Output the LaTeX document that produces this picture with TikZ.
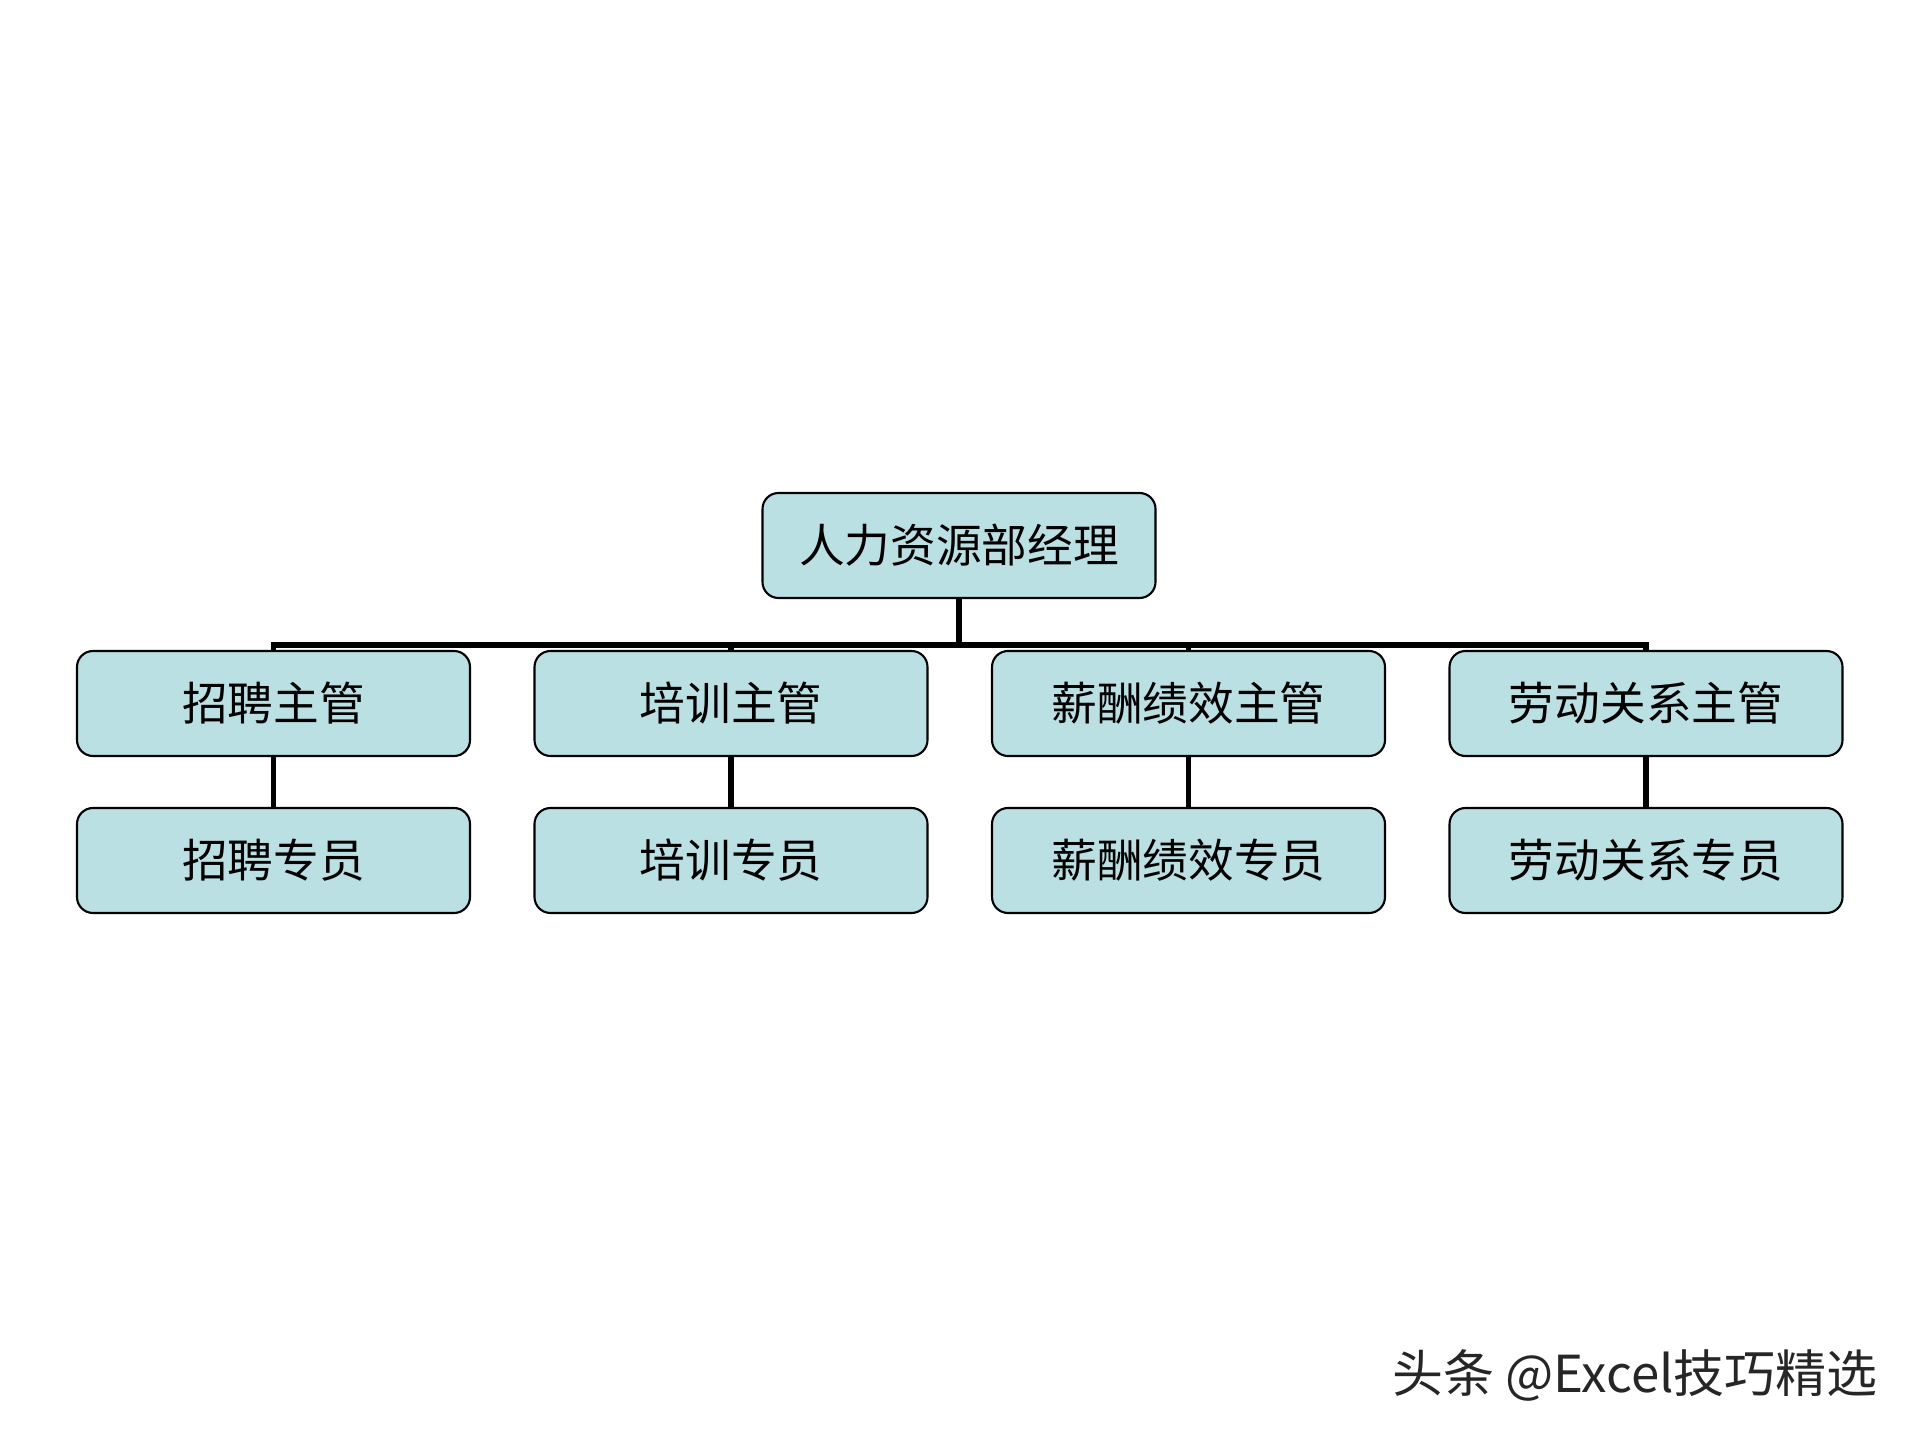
\documentclass[tikz,border=0pt]{standalone}
\usepackage{fontspec}
\usepackage{tikz}
\newfontfamily\cjk{Noto Sans CJK SC}
\definecolor{boxblue}{RGB}{187,224,227}
\tikzset{
	post/.style={draw=black,line width=0.6pt,fill=boxblue,rounded corners=0.16cm,minimum width=3.93cm,minimum height=1.05cm,inner sep=0pt,font=\cjk\fontsize{13}{15}\selectfont},
	conn/.style={line width=1.6pt}
}

\begin{document}
\begin{tikzpicture}
						\useasboundingbox (0,0) rectangle (19.2,14.4);
						\node [post] (mgr) at (9.59,8.945) {人力资源部经理};

						\node [post] (zg1) at (2.735,7.365) {招聘主管};
						\node [post] (zg2) at (7.31,7.365) {培训主管};
						\node [post] (zg3) at (11.885,7.365) {薪酬绩效主管};
						\node [post] (zg4) at (16.46,7.365) {劳动关系主管};

						\node [post] (zy1) at (2.735,5.795) {招聘专员};
						\node [post] (zy2) at (7.31,5.795) {培训专员};
						\node [post] (zy3) at (11.885,5.795) {薪酬绩效专员};
						\node [post] (zy4) at (16.46,5.795) {劳动关系专员};

						\coordinate (bar) at (9.59,7.95);
						\foreach \i in {1,...,4}
						{
							\draw [conn] (mgr.south) -- (mgr.south |- bar) -| (zg\i.north);
							\draw [conn] (zg\i.south) -- (zy\i.north);
						}

						\node [anchor=base east,text=black!85,font=\cjk\fontsize{14.5}{16}\selectfont] (mark) at (18.9,0.48) {头条 @Excel技巧精选};
					\end{tikzpicture}
\end{document}
